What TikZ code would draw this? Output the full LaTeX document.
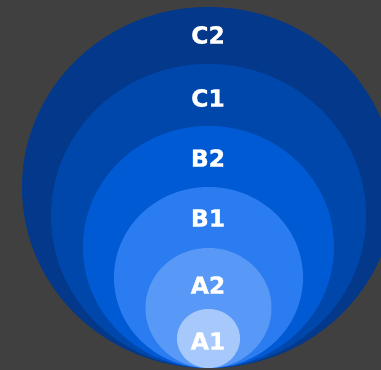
\documentclass[tikz,border=0pt]{standalone}
\usepackage{fontspec}
\setmainfont{DejaVu Sans}
\newfontfamily\levelfont{DejaVu Sans Bold}[FakeBold=1.2]

\definecolor{bgcolor}{RGB}{64,64,64}
\definecolor{colCtwo}{RGB}{3,56,138}
\definecolor{colCone}{RGB}{0,71,172}
\definecolor{colBtwo}{RGB}{0,90,212}
\definecolor{colBone}{RGB}{42,124,240}
\definecolor{colAtwo}{RGB}{88,152,246}
\definecolor{colAone}{RGB}{166,200,250}

\tikzset{
  level/.style={text=white, font=\levelfont\fontsize{23.5}{28}\selectfont}
}

\begin{document}
\begin{tikzpicture}[x=1pt, y=-1pt]

    \fill[bgcolor] (0,0) rectangle (381,370);
    \useasboundingbox (0,0) rectangle (381,370);

    % nested levels, all touching at the bottom
    \foreach \col/\rx/\ry in {colCtwo/186.5/180.5, colCone/157.5/152, colBtwo/125.5/121,
                             colBone/94.5/90.5, colAtwo/63/60, colAone/31.5/29.5}
    \fill[\col] (208.5, 368 - \ry) ellipse [x radius=\rx, y radius=\ry];

    \node[level] (ctwo) at (208, 35) {C2};
    \node[level] (cone) at (208, 98) {C1};
    \node[level] (btwo) at (208, 158) {B2};
    \node[level] (bone) at (208, 218) {B1};
    \node[level] (atwo) at (208, 285) {A2};
    \node[level] (aone) at (208, 341) {A1};
  \end{tikzpicture}
\end{document}
